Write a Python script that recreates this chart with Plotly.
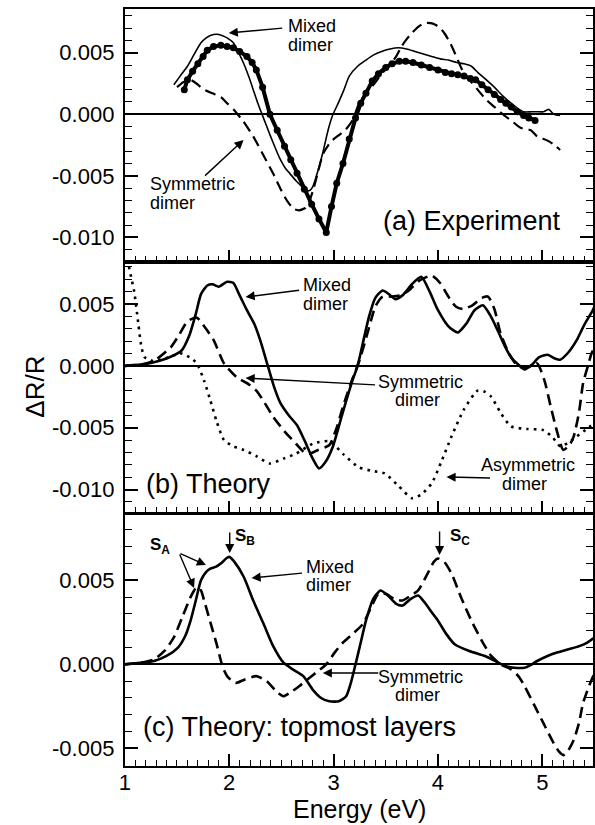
import plotly.graph_objects as go

# ---------------- data ----------------
# (a) Experiment panel
a_exp_E = [1.57, 1.60, 1.65, 1.70, 1.75, 1.79, 1.85, 1.92, 1.98, 2.04, 2.10, 2.17, 2.22, 2.26, 2.32,
           2.39, 2.46, 2.53, 2.59, 2.65, 2.72, 2.79, 2.86, 2.93, 2.98, 3.03, 3.09, 3.15, 3.21, 3.26,
           3.31, 3.37, 3.43, 3.50, 3.56, 3.63, 3.69, 3.76, 3.84, 3.92, 4.00, 4.07, 4.13, 4.19, 4.25,
           4.31, 4.36, 4.42, 4.48, 4.54, 4.60, 4.65, 4.70, 4.76, 4.82, 4.87, 4.93]
a_exp_V = [0.0020, 0.0028, 0.0035, 0.0041, 0.0047, 0.0052, 0.0055, 0.0056, 0.0055, 0.0054, 0.0051, 0.0047, 0.0042, 0.0036, 0.0022,
           0.0000, -0.0013, -0.0026, -0.0037, -0.0048, -0.0061, -0.0073, -0.0085, -0.0096, -0.0075, -0.0056, -0.0040, -0.0020, -0.0003, 0.0009,
           0.0017, 0.0027, 0.0033, 0.0038, 0.0041, 0.0043, 0.0043, 0.0042, 0.0040, 0.0038, 0.0036, 0.0034, 0.0033, 0.0032, 0.0031,
           0.0029, 0.0028, 0.0024, 0.0020, 0.0016, 0.0012, 0.0009, 0.0006, 0.0002, -0.0001, -0.0003, -0.0005]

a_mix_E = [1.47, 1.53, 1.60, 1.66, 1.73, 1.78, 1.82, 1.88, 1.93, 1.98, 2.04, 2.09, 2.14, 2.19, 2.23, 2.27,
           2.31, 2.36, 2.42, 2.48, 2.54, 2.58, 2.64, 2.70, 2.74, 2.77, 2.80, 2.85, 2.90, 2.95, 2.99, 3.05,
           3.10, 3.15, 3.23, 3.31, 3.38, 3.46, 3.54, 3.62, 3.70, 3.78, 3.86, 3.94, 4.02, 4.10, 4.18, 4.25,
           4.32, 4.38, 4.45, 4.54, 4.62, 4.70, 4.76, 4.82, 4.90, 4.97, 5.01, 5.06, 5.11, 5.17]
a_mix_V = [0.0024, 0.0031, 0.0039, 0.0048, 0.0058, 0.0062, 0.0064, 0.0065, 0.0064, 0.0062, 0.0058, 0.0050, 0.0041, 0.0030, 0.0020, 0.0010,
           0.0001, -0.0010, -0.0023, -0.0035, -0.0044, -0.0048, -0.0054, -0.0059, -0.0062, -0.0062, -0.0059, -0.0046, -0.0030, -0.0012, -0.0001, 0.0010,
           0.0020, 0.0031, 0.0039, 0.0044, 0.0048, 0.0051, 0.0053, 0.0054, 0.0053, 0.0051, 0.0049, 0.0047, 0.0045, 0.0044, 0.0042, 0.0041,
           0.0039, 0.0034, 0.0029, 0.0022, 0.0015, 0.0009, 0.0005, 0.0002, 0.0002, 0.0002, 0.0002, 0.0004, 0.0000, -0.0001]

a_sym_E = [1.50, 1.56, 1.63, 1.70, 1.76, 1.84, 1.92, 1.98, 2.04, 2.08, 2.13, 2.23, 2.32, 2.42, 2.50, 2.56,
           2.62, 2.67, 2.73, 2.77, 2.81, 2.85, 2.90, 2.95, 2.99, 3.05, 3.11, 3.18, 3.24, 3.30, 3.35, 3.40,
           3.47, 3.53, 3.60, 3.65, 3.70, 3.75, 3.81, 3.87, 3.93, 3.97, 4.02, 4.06, 4.11, 4.16, 4.21, 4.25,
           4.30, 4.38, 4.46, 4.54, 4.62, 4.70, 4.79, 4.89, 4.95, 5.04, 5.10, 5.17]
a_sym_V = [0.0022, 0.0026, 0.0028, 0.0024, 0.0020, 0.0017, 0.0014, 0.0009, 0.0004, 0.0000, -0.0005, -0.0018, -0.0032, -0.0048, -0.0062, -0.0071,
           -0.0077, -0.0078, -0.0076, -0.0070, -0.0060, -0.0047, -0.0032, -0.0025, -0.0021, -0.0017, -0.0013, -0.0005, 0.0008, 0.0016, 0.0021, 0.0026,
           0.0034, 0.0039, 0.0047, 0.0055, 0.0061, 0.0066, 0.0071, 0.0074, 0.0074, 0.0073, 0.0070, 0.0066, 0.0059, 0.0050, 0.0040, 0.0033,
           0.0028, 0.0020, 0.0012, 0.0006, 0.0000, -0.0005, -0.0011, -0.0013, -0.0018, -0.0021, -0.0024, -0.0029]

# (b) Theory panel
b_mix_E = [1.00, 1.15, 1.28, 1.40, 1.54, 1.62, 1.68, 1.73, 1.79, 1.84, 1.90, 1.98, 2.04, 2.10, 2.17, 2.24,
           2.30, 2.37, 2.43, 2.49, 2.57, 2.65, 2.72, 2.80, 2.86, 2.92, 2.99, 3.08, 3.18, 3.23, 3.29, 3.34,
           3.40, 3.47, 3.53, 3.59, 3.66, 3.75, 3.84, 3.92, 4.00, 4.10, 4.19, 4.27, 4.35, 4.43, 4.50, 4.57,
           4.64, 4.70, 4.77, 4.83, 4.90, 4.97, 5.05, 5.12, 5.17, 5.25, 5.33, 5.40, 5.47, 5.50]
b_mix_V = [0.0000, 0.0001, 0.0003, 0.0006, 0.0012, 0.0025, 0.0042, 0.0058, 0.0065, 0.0066, 0.0064, 0.0068, 0.0067, 0.0057, 0.0045, 0.0034,
           0.0020, 0.0000, -0.0017, -0.0030, -0.0040, -0.0048, -0.0060, -0.0075, -0.0083, -0.0078, -0.0066, -0.0040, -0.0012, 0.0000, 0.0022, 0.0040,
           0.0055, 0.0061, 0.0058, 0.0054, 0.0057, 0.0066, 0.0072, 0.0060, 0.0045, 0.0032, 0.0027, 0.0034, 0.0045, 0.0049, 0.0041, 0.0029,
           0.0016, 0.0007, 0.0001, -0.0003, 0.0001, 0.0007, 0.0009, 0.0006, 0.0005, 0.0011, 0.0021, 0.0033, 0.0043, 0.0048]

b_sym_E = [1.00, 1.15, 1.28, 1.44, 1.52, 1.60, 1.69, 1.76, 1.85, 1.95, 2.07, 2.17, 2.26, 2.34, 2.42, 2.53,
           2.64, 2.72, 2.77, 2.85, 2.96, 3.03, 3.09, 3.17, 3.25, 3.33, 3.40, 3.47, 3.56, 3.64, 3.72, 3.82,
           3.94, 4.02, 4.10, 4.17, 4.24, 4.33, 4.42, 4.48, 4.54, 4.60, 4.68, 4.75, 4.79, 4.87, 4.95, 5.02,
           5.08, 5.14, 5.20, 5.26, 5.30, 5.35, 5.39, 5.44, 5.47, 5.50]
b_sym_V = [0.0000, 0.0001, 0.0004, 0.0015, 0.0025, 0.0036, 0.0039, 0.0032, 0.0021, 0.0002, -0.0009, -0.0014, -0.0020, -0.0030, -0.0041, -0.0053,
           -0.0063, -0.0070, -0.0071, -0.0068, -0.0064, -0.0050, -0.0033, -0.0013, 0.0005, 0.0028, 0.0048, 0.0056, 0.0056, 0.0057, 0.0061, 0.0069,
           0.0073, 0.0067, 0.0056, 0.0048, 0.0046, 0.0049, 0.0055, 0.0056, 0.0046, 0.0026, 0.0010, 0.0001, -0.0001, -0.0001, 0.0002, -0.0012,
           -0.0033, -0.0053, -0.0068, -0.0064, -0.0057, -0.0038, -0.0014, 0.0001, 0.0010, 0.0015]

b_asym_E = [1.02, 1.04, 1.06, 1.09, 1.13, 1.16, 1.19, 1.27, 1.35, 1.45, 1.54, 1.62, 1.69, 1.76, 1.82, 1.88,
            1.95, 2.04, 2.14, 2.26, 2.39, 2.52, 2.64, 2.80, 2.96, 3.10, 3.24, 3.37, 3.49, 3.62, 3.75, 3.84,
            3.94, 4.03, 4.13, 4.25, 4.38, 4.45, 4.51, 4.60, 4.70, 4.85, 5.01, 5.10, 5.17, 5.25, 5.33, 5.41, 5.50]
b_asym_V = [0.0086, 0.0080, 0.0072, 0.0060, 0.0034, 0.0015, 0.0007, 0.0004, 0.0005, 0.0008, 0.0010, 0.0007, 0.0002, -0.0012, -0.0028, -0.0045,
            -0.0060, -0.0065, -0.0068, -0.0073, -0.0079, -0.0075, -0.0071, -0.0063, -0.0061, -0.0072, -0.0082, -0.0085, -0.0087, -0.0097, -0.0107, -0.0104,
            -0.0095, -0.0078, -0.0057, -0.0035, -0.0020, -0.0021, -0.0025, -0.0038, -0.0049, -0.0051, -0.0052, -0.0058, -0.0065, -0.0062, -0.0057, -0.0052, -0.0046]

# (c) Theory: topmost layers panel
c_mix_E = [1.00, 1.15, 1.28, 1.40, 1.51, 1.58, 1.63, 1.68, 1.73, 1.78, 1.82, 1.87, 1.92, 1.97, 2.00, 2.05,
           2.14, 2.23, 2.33, 2.42, 2.52, 2.61, 2.71, 2.80, 2.88, 2.96, 3.05, 3.12, 3.17, 3.21, 3.26, 3.31,
           3.38, 3.45, 3.52, 3.60, 3.66, 3.74, 3.81, 3.87, 3.94, 4.00, 4.08, 4.16, 4.30, 4.45, 4.55, 4.64,
           4.73, 4.83, 4.90, 4.95, 5.05, 5.14, 5.25, 5.36, 5.43, 5.50]
c_mix_V = [0.0000, 0.0001, 0.0002, 0.0005, 0.0010, 0.0017, 0.0026, 0.0038, 0.0050, 0.0055, 0.0057, 0.0058, 0.0060, 0.0063, 0.0064, 0.0061,
           0.0052, 0.0038, 0.0024, 0.0011, 0.0001, -0.0003, -0.0007, -0.0015, -0.0020, -0.0022, -0.0022, -0.0019, -0.0010, 0.0000, 0.0013, 0.0026,
           0.0039, 0.0044, 0.0041, 0.0036, 0.0035, 0.0039, 0.0041, 0.0037, 0.0031, 0.0026, 0.0018, 0.0012, 0.0008, 0.0005, 0.0002, -0.0001,
           -0.0002, -0.0002, 0.0000, 0.0002, 0.0005, 0.0007, 0.0009, 0.0011, 0.0013, 0.0016]

c_sym_E = [1.00, 1.15, 1.28, 1.38, 1.47, 1.55, 1.63, 1.69, 1.73, 1.76, 1.82, 1.88, 1.94, 1.98, 2.03, 2.07,
           2.15, 2.26, 2.36, 2.45, 2.52, 2.58, 2.67, 2.77, 2.85, 2.93, 3.01, 3.09, 3.18, 3.28, 3.36, 3.43,
           3.50, 3.58, 3.66, 3.74, 3.81, 3.90, 3.96, 4.00, 4.06, 4.13, 4.22, 4.32, 4.42, 4.51, 4.60, 4.70,
           4.77, 4.83, 4.92, 5.01, 5.10, 5.16, 5.20, 5.24, 5.30, 5.35, 5.39, 5.44, 5.50]
c_sym_V = [0.0000, 0.0001, 0.0003, 0.0008, 0.0016, 0.0028, 0.0040, 0.0046, 0.0044, 0.0038, 0.0025, 0.0012, -0.0002, -0.0007, -0.0010, -0.0011,
           -0.0009, -0.0007, -0.0010, -0.0016, -0.0019, -0.0017, -0.0013, -0.0008, -0.0004, 0.0000, 0.0007, 0.0013, 0.0018, 0.0024, 0.0034, 0.0042,
           0.0042, 0.0039, 0.0038, 0.0041, 0.0044, 0.0054, 0.0061, 0.0063, 0.0061, 0.0054, 0.0040, 0.0026, 0.0014, 0.0005, 0.0000, -0.0003,
           -0.0007, -0.0013, -0.0024, -0.0035, -0.0046, -0.0052, -0.0054, -0.0052, -0.0045, -0.0035, -0.0023, -0.0014, -0.0005]

x_ticks = [1, 2, 3, 4, 5]
x_ticktext = ["1", "2", "3", "4", "5"]
y_ticks_ab = [-0.010, -0.005, 0.000, 0.005]
y_ticktext_ab = ["-0.010", "-0.005", "0.000", "0.005"]
y_ticks_c = [-0.005, 0.000, 0.005]
y_ticktext_c = ["-0.005", "0.000", "0.005"]

# ---------------- figure ----------------
W, H = 595, 825
FONT = "Liberation Sans, Arial, Helvetica, sans-serif"


def fx(px):
    return px / W


def fy(py):
    return 1 - py / H


fig = go.Figure()

LW = 2.6
DASH = "11px,6px"

# panel a
fig.add_trace(go.Scatter(x=a_mix_E, y=a_mix_V, mode="lines", line=dict(color="black", width=1.6, shape="spline", smoothing=0.6),
                         xaxis="x", yaxis="y", showlegend=False))
fig.add_trace(go.Scatter(x=a_sym_E, y=a_sym_V, mode="lines", line=dict(color="black", width=2.2, dash=DASH, shape="spline", smoothing=0.6),
                         xaxis="x", yaxis="y", showlegend=False))
fig.add_trace(go.Scatter(x=a_exp_E, y=a_exp_V, mode="lines+markers", line=dict(color="black", width=4),
                         marker=dict(color="black", size=7), xaxis="x", yaxis="y", showlegend=False))
# panel b
fig.add_trace(go.Scatter(x=b_mix_E, y=b_mix_V, mode="lines", line=dict(color="black", width=LW, shape="spline", smoothing=0.6),
                         xaxis="x2", yaxis="y2", showlegend=False))
fig.add_trace(go.Scatter(x=b_sym_E, y=b_sym_V, mode="lines", line=dict(color="black", width=LW, dash=DASH, shape="spline", smoothing=0.6),
                         xaxis="x2", yaxis="y2", showlegend=False))
fig.add_trace(go.Scatter(x=b_asym_E, y=b_asym_V, mode="lines", line=dict(color="black", width=2.6, dash="2.6px,5px", shape="spline", smoothing=0.6),
                         xaxis="x2", yaxis="y2", showlegend=False))
# panel c
fig.add_trace(go.Scatter(x=c_mix_E, y=c_mix_V, mode="lines", line=dict(color="black", width=LW, shape="spline", smoothing=0.6),
                         xaxis="x3", yaxis="y3", showlegend=False))
fig.add_trace(go.Scatter(x=c_sym_E, y=c_sym_V, mode="lines", line=dict(color="black", width=LW, dash=DASH, shape="spline", smoothing=0.6),
                         xaxis="x3", yaxis="y3", showlegend=False))

XR = [1, 5.485]
xdom = [fx(120), fx(593)]
doms = {
    "a": [fy(262), fy(9)],
    "b": [fy(513), fy(262)],
    "c": [fy(766), fy(514)],
}


def xaxis(anchor, labels):
    return dict(domain=xdom, range=XR, anchor=anchor, showline=True, linecolor="black", linewidth=2, mirror=True,
                ticks="inside", ticklen=12, tickwidth=1.5, tickcolor="black", tickmode="array",
                tickvals=x_ticks, ticktext=x_ticktext, showticklabels=labels, showgrid=False, zeroline=False,
                minor=dict(dtick=0.1, tick0=1, ticks="inside", ticklen=6, tickwidth=1.2, tickcolor="black", showgrid=False),
                tickfont=dict(family=FONT, size=22, color="black"), ticklabelstandoff=-4)


def yaxis(anchor, dom, rng, tv, tt):
    return dict(domain=dom, range=rng, anchor=anchor, showline=True, linecolor="black", linewidth=2, mirror="allticks",
                ticks="inside", ticklen=13, tickwidth=1.5, tickcolor="black", tickmode="array", tickvals=tv, ticktext=tt,
                showgrid=False, zeroline=True, zerolinecolor="black", zerolinewidth=1.5,
                minor=dict(dtick=0.001, tick0=0, ticks="inside", ticklen=7, tickwidth=1.2, tickcolor="black", showgrid=False),
                tickfont=dict(family=FONT, size=22, color="black"), ticklabelstandoff=4)


fig.update_layout(
    width=W, height=H, margin=dict(l=0, r=0, t=0, b=0),
    paper_bgcolor="white", plot_bgcolor="white",
    font=dict(family=FONT, color="black"),
    xaxis=xaxis("y", False),
    xaxis2=xaxis("y2", False),
    xaxis3=xaxis("y3", True),
    yaxis=yaxis("x", doms["a"], [-0.012, 0.00855], y_ticks_ab, y_ticktext_ab),
    yaxis2=yaxis("x2", doms["b"], [-0.0119, 0.0084], y_ticks_ab, y_ticktext_ab),
    yaxis3=yaxis("x3", doms["c"], [-0.00605, 0.00895], y_ticks_c, y_ticktext_c),
)

ann = []
DX = -4  # small shift for left-anchored labels


def text(xp, yp, s, size=18, xanchor="left", angle=0):
    if xanchor == "left":
        xp = xp + DX
    ann.append(dict(x=fx(xp), y=fy(yp), xref="paper", yref="paper", text=s, showarrow=False,
                    xanchor=xanchor, yanchor="middle", textangle=angle,
                    font=dict(family=FONT, size=size, color="black")))


def arrow(tx, ty, hx, hy):
    ann.append(dict(x=fx(hx), y=fy(hy), xref="paper", yref="paper", ax=tx - hx, ay=ty - hy,
                    axref="pixel", ayref="pixel", text="", showarrow=True, arrowhead=2, arrowsize=1.3,
                    arrowwidth=1.4, arrowcolor="black"))


# panel a
text(287, 26, "Mixed")
text(287, 45, "dimer")
arrow(280, 28, 225, 33)
text(147, 184, "Symmetric")
text(147, 203, "dimer")
arrow(200, 177, 240, 140)
text(563, 221, "(a) Experiment", size=27, xanchor="right")

# panel b
text(302, 285, "Mixed")
text(302, 304, "dimer")
arrow(297, 290, 242, 297)
text(378, 382, "Symmetric")
text(395, 400, "dimer")
arrow(373, 385, 242, 378)
text(482, 465, "Asymmetric")
text(503, 484, "dimer")
arrow(490, 478, 445, 477)
text(143, 484, "(b) Theory", size=27)

# panel c
text(147, 546, "<b>S<sub>A</sub></b>", size=17)
arrow(175, 553, 202, 565)
arrow(175, 553, 190, 588)
text(233, 537, "<b>S<sub>B</sub></b>", size=17)
arrow(226, 531, 226, 553)
text(305, 567, "Mixed")
text(305, 585, "dimer")
arrow(300, 573, 248, 578)
text(450, 537, "<b>S<sub>C</sub></b>", size=17)
arrow(438, 530, 438, 555)
text(378, 677, "Symmetric")
text(395, 695, "dimer")
arrow(377, 673, 320, 673)
text(140, 727, "(c) Theory: topmost layers", size=27)

# axis titles
text(29, 387, "ΔR/R", size=26, xanchor="center", angle=-90)
text(357, 809, "Energy (eV)", size=25, xanchor="center")

fig.update_layout(annotations=ann)
fig.write_html("out.html")
